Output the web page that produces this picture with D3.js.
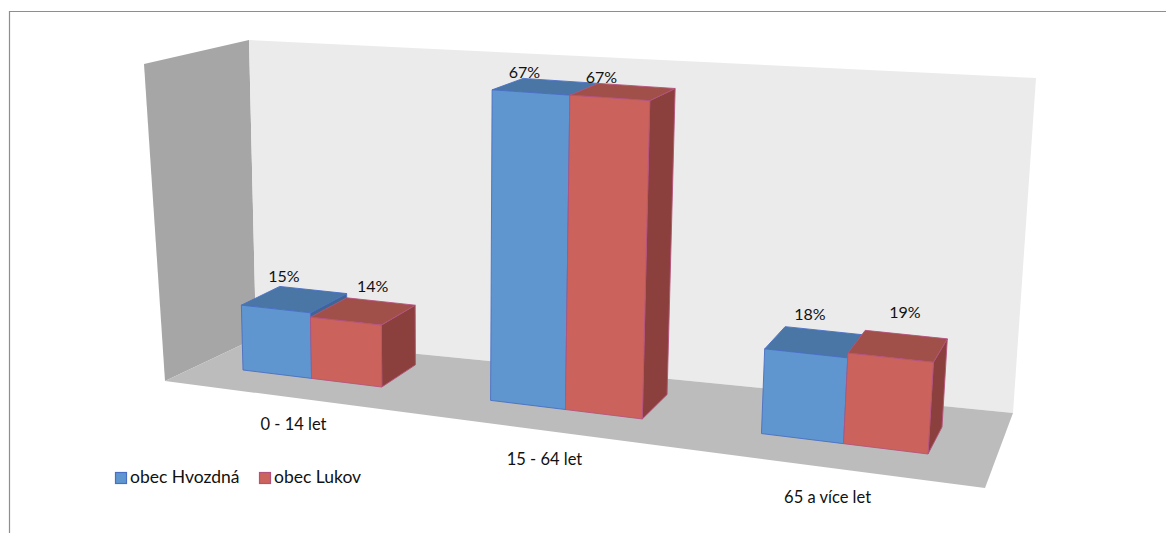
<!DOCTYPE html>
<html><head><meta charset="utf-8">
<script src="https://cdn.jsdelivr.net/npm/d3@7"></script>
<style>html,body{margin:0;background:#fff}svg{display:block}text{font-family:Lato,"Open Sans",sans-serif;fill:#111}</style>
</head><body><svg id="c" width="1166" height="533"></svg>
<script>
// Data
const categories = ["0 - 14 let","15 - 64 let","65 a více let"];
const seriesNames = ["obec Hvozdná","obec Lukov"];
const hvozdna = [15,67,18];
const lukov = [14,67,19];
const valueMax = 70;
const labelNudgeHvozdna = [[-29,-12],[-36,-7],[-15,-15]];
const labelNudgeLukov = [[-8,-14],[-35,-7],[-1,-21]];
const categoryNudge = [[-18,47],[-21,51],[-16,55]];

// Chart box corners on screen
const floorQuad = [[165,381],[985,488],[1013,413],[256,338]]; // front-left, front-right, back-right, back-left
const leftWall = [[165,381],[256,338],[249,40],[144,64]];
const backWall = [[256,338],[1013,413],[1036,78],[249,40]];
const barPlane = [[243,370],[928,454],[942,427],[281,349]]; // footprint that holds all bars
const verticalVanish = [450,8608];
const fullHeight = 329; // screen height of the value axis at mid-plane
const colors = {
  s:[{front:"#5f96cf",top:"#4a76a5",side:"#3f6590",line:"#4a6ec4"},
     {front:"#cb645c",top:"#a04f4a",side:"#8c413d",line:"#b4527e"}],
  wall:"#ebebeb",left:"#a6a6a6",floor:"#bcbcbc"
};

function quadParams(q){
  const [[x0,y0],[x1,y1],[x2,y2],[x3,y3]]=q;
  const dx1=x1-x2,dx2=x3-x2,sx=x0-x1+x2-x3,dy1=y1-y2,dy2=y3-y2,sy=y0-y1+y2-y3;
  const den=dx1*dy2-dx2*dy1;
  const g=(sx*dy2-dx2*sy)/den,h=(dx1*sy-sx*dy1)/den;
  return {g,h,a:x1-x0+g*x1,b:x3-x0+h*x3,d:y1-y0+g*y1,e:y3-y0+h*y3,x0,y0};
}
const F=quadParams(barPlane);
const midD=F.g*0.5+1, midY=(F.d*0.5+F.y0)/midD;
const heightGain=-fullHeight*midD/(verticalVanish[1]-midY+fullHeight);
const project=(u,v,w)=>{
  const D=F.g*u+F.h*v+1,k=heightGain*w;
  return [(F.a*u+F.b*v+F.x0+k*verticalVanish[0])/(D+k),(F.d*u+F.e*v+F.y0+k*verticalVanish[1])/(D+k)];
};

const xCat=d3.scaleBand().domain(categories).range([0,1]).paddingInner(1.5/3.5);
const xSer=d3.scaleBand().domain(seriesNames).range([0,xCat.bandwidth()]);
const yVal=d3.scaleLinear().domain([0,valueMax]).range([0,1]);
const zDepth=d3.scaleBand().domain(["bars"]).range([0,1]);

const svg=d3.select("#c");
svg.append("defs").append("filter").attr("id","soft").append("feGaussianBlur").attr("stdDeviation",0.45);
const line=d3.line();
const poly=pts=>line(pts)+"Z";

// frame
svg.append("path").attr("d","M9.5,533V11.5H1166").attr("fill","none").attr("stroke","#8e8e8e").attr("stroke-width",1.2);

const g=svg.append("g").attr("filter","url(#soft)");
g.append("path").attr("d",poly(leftWall)).attr("fill",colors.left);
g.append("path").attr("d",poly(backWall)).attr("fill",colors.wall);
g.append("path").attr("d",poly(floorQuad)).attr("fill",colors.floor);

const rows=[hvozdna,lukov];
const v0=zDepth("bars"), v1=v0+zDepth.bandwidth();
categories.forEach((c,i)=>{
  seriesNames.forEach((s,k)=>{
    const u0=xCat(c)+xSer(s), u1=u0+xSer.bandwidth(), w=yVal(rows[k][i]), col=colors.s[k];
    const face=(pts,fill)=>g.append("path").attr("d",poly(pts.map(p=>project(...p))))
      .attr("fill",fill).attr("stroke",col.line).attr("stroke-width",0.9).attr("stroke-linejoin","round");
    face([[u1,v0,0],[u1,v1,0],[u1,v1,w],[u1,v0,w]],col.side);
    face([[u0,v0,w],[u1,v0,w],[u1,v1,w],[u0,v1,w]],col.top);
    face([[u0,v0,0],[u1,v0,0],[u1,v0,w],[u0,v0,w]],col.front);
  });
});

// data labels
[labelNudgeHvozdna,labelNudgeLukov].forEach((nudge,k)=>{
  categories.forEach((c,i)=>{
    const u=xCat(c)+xSer(seriesNames[k])+xSer.bandwidth()/2;
    const p=project(u,v1,yVal(rows[k][i]));
    svg.append("text").attr("x",p[0]+nudge[i][0]).attr("y",p[1]+nudge[i][1]).attr("text-anchor","middle")
      .attr("dominant-baseline","middle").attr("font-size",16).text(rows[k][i]+"%");
  });
});

// category labels
categories.forEach((c,i)=>{
  const p=project(xCat(c)+xCat.bandwidth()/2,0,0);
  svg.append("text").attr("x",p[0]+categoryNudge[i][0]).attr("y",p[1]+categoryNudge[i][1]).attr("text-anchor","middle")
    .attr("dominant-baseline","middle").attr("font-size",16.5).text(c);
});

// legend
const legendX=d3.scalePoint().domain(seriesNames).range([115,259]);
seriesNames.forEach((s,k)=>{
  const x=legendX(s);
  svg.append("rect").attr("x",x+.5).attr("y",472.5).attr("width",11).attr("height",11)
    .attr("fill",colors.s[k].front).attr("stroke",colors.s[k].line).attr("stroke-width",1.2);
  svg.append("text").attr("x",x+15).attr("y",479).attr("dominant-baseline","middle").attr("font-size",17.5).text(s);
});
</script></body></html>
